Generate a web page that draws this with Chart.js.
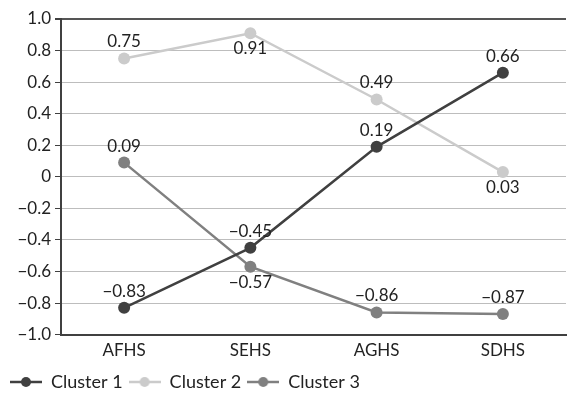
<!DOCTYPE html>
<html>
<head>
<meta charset="utf-8">
<script src="https://cdn.jsdelivr.net/npm/chart.js@4"></script>
<style>
  html, body { margin: 0; padding: 0; background: #fff; }
  #wrap { width: 572px; height: 405px; }
</style>
</head>
<body>
<div id="wrap"><canvas id="chart" width="572" height="405"></canvas></div>
<script>
// Categories and series
const categories = ['AFHS', 'SEHS', 'AGHS', 'SDHS'];
const cluster1 = [-0.83, -0.45, 0.19, 0.66];
const cluster2 = [0.75, 0.91, 0.49, 0.03];
const cluster3 = [0.09, -0.57, -0.86, -0.87];

// label position per point: 'above' or 'below'
const pos1 = ['above', 'above', 'above', 'above'];
const pos2 = ['above', 'below', 'above', 'below'];
const pos3 = ['above', 'below', 'above', 'above'];

const FONT = 'Lato, "Open Sans", sans-serif';
const FSIZE = 17;
const fmt = v => (v < 0 ? '\u2212' : '') + Math.abs(v).toFixed(2);

// little line+dot icon for the legend
function legendIcon(color) {
    const c = document.createElement('canvas');
    c.width = 32; c.height = 12;
    const g = c.getContext('2d');
    g.strokeStyle = color;
    g.lineWidth = 2.5;
    g.beginPath(); g.moveTo(0, 6); g.lineTo(32, 6); g.stroke();
    g.fillStyle = color;
    g.beginPath(); g.arc(16, 6, 5, 0, Math.PI * 2); g.fill();
    return c;
}

// Draw value labels next to each point
const valueLabels = {
    id: 'valueLabels',
    afterDatasetsDraw(chart) {
        const ctx = chart.ctx;
        ctx.save();
        ctx.font = FSIZE + 'px ' + FONT;
        ctx.fillStyle = '#222';
        ctx.textAlign = 'center';
        chart.data.datasets.forEach((ds, i) => {
            const meta = chart.getDatasetMeta(i);
            meta.data.forEach((pt, j) => {
                const below = ds.labelPos[j] === 'below';
                ctx.textBaseline = below ? 'top' : 'bottom';
                ctx.fillText(fmt(ds.data[j]), pt.x, below ? pt.y + 7 : pt.y - 8);
            });
        });
        ctx.restore();
    }
};

const series = [
    { label: 'Cluster 1', data: cluster1, color: '#404040', labelPos: pos1 },
    { label: 'Cluster 2', data: cluster2, color: '#cbcbcb', labelPos: pos2 },
    { label: 'Cluster 3', data: cluster3, color: '#808080', labelPos: pos3 }
];

const ctx = document.getElementById('chart').getContext('2d');

const chart = new Chart(ctx, {
    type: 'line',
    data: {
        labels: categories,
        datasets: series.map(s => ({
            label: s.label,
            data: s.data,
            labelPos: s.labelPos,
            borderColor: s.color,
            backgroundColor: s.color,
            pointBackgroundColor: s.color,
            pointBorderWidth: 0,
            pointRadius: 6,
            borderWidth: 2.5,
            tension: 0,
            icon: legendIcon(s.color)
        }))
    },
    options: {
        responsive: false,
        animation: false,
        layout: { padding: { top: 19, right: 0, left: 4, bottom: 4 } },
        plugins: {
            tooltip: { enabled: false },
            legend: {
                position: 'bottom',
                align: 'start',
                labels: {
                    usePointStyle: true,
                    pointStyleWidth: 32,
                    color: '#222',
                    font: { family: FONT, size: 18 },
                    padding: 6,
                    boxHeight: 12,
                    generateLabels(chart) {
                        return chart.data.datasets.map((ds, i) => ({
                            text: ds.label,
                            pointStyle: ds.icon,
                            fillStyle: ds.borderColor,
                            strokeStyle: ds.borderColor,
                            lineWidth: 0,
                            hidden: false,
                            datasetIndex: i,
                            fontColor: '#222'
                        }));
                    }
                }
            }
        },
        scales: {
            x: {
                offset: true,
                grid: { display: false, drawTicks: false },
                border: { color: '#404040', width: 2 },
                ticks: {
                    color: '#222',
                    font: { family: FONT, size: FSIZE },
                    padding: 6
                }
            },
            y: {
                min: -1,
                max: 1,
                grid: {
                    color: ctx => (ctx.tick && ctx.tick.value === 1) ? '#555' : '#bdbdbd',
                    lineWidth: ctx => (ctx.tick && ctx.tick.value === 1) ? 2 : 1,
                    tickColor: '#404040',
                    tickLength: 6
                },
                border: { color: '#404040', width: 2 },
                ticks: {
                    stepSize: 0.2,
                    color: '#222',
                    font: { family: FONT, size: FSIZE },
                    padding: 4,
                    callback: v => {
                        const r = Math.round(v * 10) / 10;
                        if (r === 0) return '0';
                        return (r < 0 ? '\u2212' : '') + Math.abs(r).toFixed(1);
                    }
                },
                afterFit(scale) { scale.width = 57; }
            }
        }
    },
    plugins: [valueLabels]
});
</script>
</body>
</html>
